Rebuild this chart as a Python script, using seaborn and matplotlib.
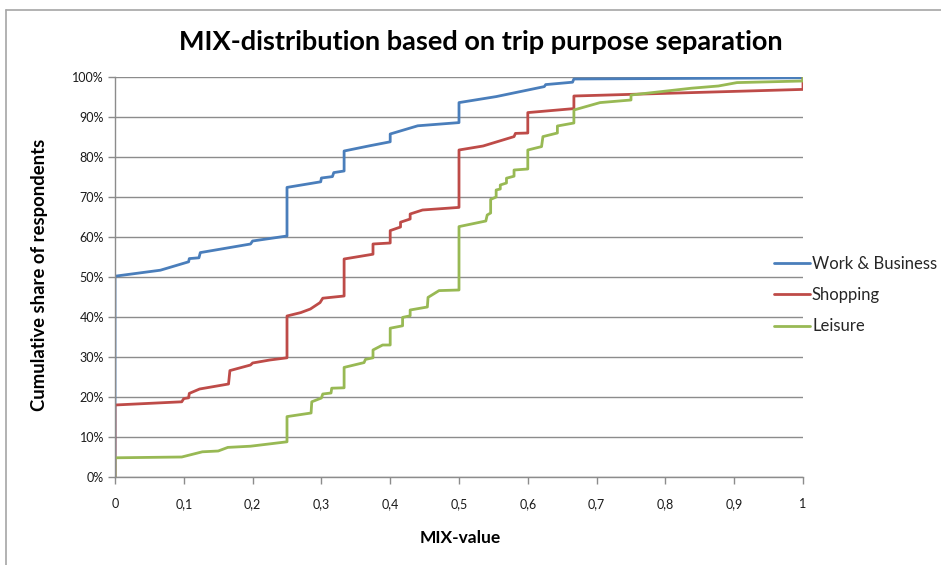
import numpy as np
import pandas as pd
import matplotlib
matplotlib.use("Agg")
import matplotlib.pyplot as plt
from matplotlib.lines import Line2D
import seaborn as sns

# Cumulative share of respondents by MIX-value, per trip purpose
work_x = [0, 0, 0.066, 0.107, 0.108, 0.122, 0.124, 0.197, 0.2, 0.25, 0.25, 0.299, 0.3,
          0.316, 0.318, 0.333, 0.333, 0.37, 0.4, 0.4, 0.44, 0.5, 0.5, 0.554, 0.624, 0.626,
          0.665, 0.667, 1.0, 1.0]
work_y = [0, 0.502, 0.517, 0.538, 0.546, 0.548, 0.561, 0.5825, 0.59, 0.6025, 0.724, 0.738, 0.7475,
          0.751, 0.761, 0.765, 0.815, 0.828, 0.838, 0.8575, 0.878, 0.886, 0.936, 0.951, 0.976, 0.981,
          0.987, 0.995, 0.998, 1.0]

shop_x = [0, 0, 0.097, 0.1, 0.107, 0.108, 0.123, 0.165, 0.167, 0.197, 0.2, 0.225, 0.25, 0.25,
          0.27, 0.284, 0.298, 0.302, 0.333, 0.333, 0.375, 0.375, 0.4, 0.4, 0.415, 0.415,
          0.429, 0.429, 0.447, 0.5, 0.5, 0.535, 0.58, 0.582, 0.6, 0.6, 0.667, 0.667, 1.0, 1.0]
shop_y = [0, 0.18, 0.188, 0.196, 0.198, 0.209, 0.22, 0.2325, 0.266, 0.28, 0.285, 0.2925, 0.298, 0.4025,
          0.411, 0.42, 0.436, 0.447, 0.4525, 0.545, 0.557, 0.5825, 0.585, 0.616, 0.625, 0.637,
          0.645, 0.6575, 0.6675, 0.674, 0.8175, 0.8275, 0.851, 0.859, 0.86, 0.911, 0.921, 0.9525, 0.969, 1.0]

leis_x = [0, 0, 0.097, 0.127, 0.15, 0.164, 0.197, 0.25, 0.25, 0.285, 0.286, 0.3, 0.302, 0.314,
          0.315, 0.333, 0.333, 0.362, 0.364, 0.375, 0.375, 0.389, 0.4, 0.4, 0.418, 0.418,
          0.429, 0.429, 0.454, 0.455, 0.471, 0.5, 0.5, 0.539, 0.541, 0.546, 0.546, 0.554, 0.554,
          0.56, 0.56, 0.569, 0.569, 0.58, 0.58, 0.6, 0.6, 0.62, 0.622, 0.643, 0.643, 0.667, 0.667,
          0.705, 0.75, 0.75, 0.838, 0.877, 0.904, 1.0, 1.0]
leis_y = [0, 0.048, 0.05, 0.063, 0.065, 0.074, 0.077, 0.088, 0.151, 0.16, 0.188, 0.1975, 0.2075, 0.21,
          0.222, 0.223, 0.274, 0.286, 0.294, 0.298, 0.3175, 0.33, 0.33, 0.372, 0.378, 0.399,
          0.403, 0.4175, 0.425, 0.449, 0.466, 0.4675, 0.626, 0.64, 0.655, 0.66, 0.694, 0.7, 0.7175,
          0.72, 0.73, 0.735, 0.747, 0.752, 0.7675, 0.77, 0.8175, 0.826, 0.851, 0.86, 0.8775, 0.885, 0.9175,
          0.936, 0.9425, 0.955, 0.972, 0.9775, 0.986, 0.99, 1.0]

purposes = ["Work & Business", "Shopping", "Leisure"]
colors = ["#4A7EBB", "#BE4B48", "#98B954"]

x_ticks = [0, 0.1, 0.2, 0.3, 0.4, 0.5, 0.6, 0.7, 0.8, 0.9, 1.0]
x_tick_labels = ["0", "0,1", "0,2", "0,3", "0,4", "0,5", "0,6", "0,7", "0,8", "0,9", "1"]
y_ticks = [0, 0.1, 0.2, 0.3, 0.4, 0.5, 0.6, 0.7, 0.8, 0.9, 1.0]
y_tick_labels = ["0%", "10%", "20%", "30%", "40%", "50%", "60%", "70%", "80%", "90%", "100%"]

df = pd.concat([
    pd.DataFrame({"mix": work_x, "share": work_y, "purpose": purposes[0]}),
    pd.DataFrame({"mix": shop_x, "share": shop_y, "purpose": purposes[1]}),
    pd.DataFrame({"mix": leis_x, "share": leis_y, "purpose": purposes[2]}),
], ignore_index=True)

sns.set_theme(style="white")
plt.rcParams["font.family"] = ["Lato", "DejaVu Sans"]

W, H = 941, 565
fig = plt.figure(figsize=(W / 100, H / 100), dpi=100)
ax = fig.add_axes([115 / W, (H - 477) / H, 688 / W, 400 / H])

sns.lineplot(data=df, x="mix", y="share", hue="purpose", hue_order=purposes,
             palette=colors, sort=False, estimator=None, linewidth=2.0, ax=ax)

ax.set_xlim(0, 1.0)
ax.set_ylim(0, 1.0)
ax.set_xticks(x_ticks)
ax.set_xticklabels(x_tick_labels)
ax.set_yticks(y_ticks)
ax.set_yticklabels(y_tick_labels)
ax.yaxis.grid(True, color="#8C8C8C", linewidth=1.0)
ax.xaxis.grid(False)
ax.set_axisbelow(True)
for side in ["top", "right"]:
    ax.spines[side].set_visible(False)
for side in ["left", "bottom"]:
    ax.spines[side].set_color("#8C8C8C")
    ax.spines[side].set_linewidth(1.0)
ax.tick_params(axis="both", direction="out", length=5, width=1, color="#8C8C8C",
               labelsize=9, labelcolor="#1a1a1a", bottom=True, left=True)
ax.tick_params(axis="x", pad=10)
ax.tick_params(axis="y", pad=3)

ax.set_xlabel("")
ax.set_ylabel("")
fig.text(460 / W, 1 - 538 / H, "MIX-value", ha="center", va="center",
         fontsize=12.5, fontweight="bold", color="#000000")
fig.text(40 / W, 1 - 275 / H, "Cumulative share of respondents", ha="center", va="center",
         rotation=90, fontsize=13.3, fontweight="bold", color="#000000")
fig.text(481 / W, 1 - 42 / H, "MIX-distribution based on trip purpose separation",
         ha="center", va="center", fontsize=19.5, fontweight="bold", color="#000000")

handles, labels = ax.get_legend_handles_labels()
ax.legend_.remove()
fig.legend(handles, labels, loc="upper left", bbox_to_anchor=(767 / W, 1 - 249 / H),
           frameon=False, fontsize=12, labelspacing=0.92, handlelength=2.2,
           handletextpad=0.1, borderaxespad=0)

# chart-area frame
fig.add_artist(Line2D([6 / W, 1], [1 - 10 / H, 1 - 10 / H], color="#A6A6A6", linewidth=1.2))
fig.add_artist(Line2D([6 / W, 6 / W], [0, 1 - 10 / H], color="#A6A6A6", linewidth=1.2))

fig.savefig("out.png", dpi=100)
